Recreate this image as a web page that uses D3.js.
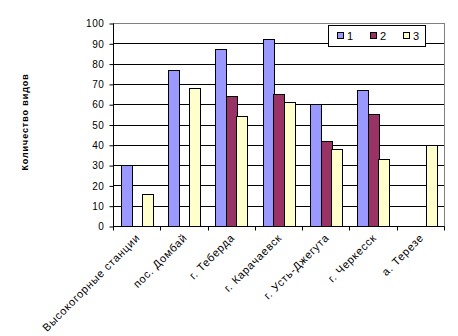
<!DOCTYPE html>
<html>
<head>
<meta charset="utf-8">
<script src="https://cdn.jsdelivr.net/npm/d3@7"></script>
<style>
  html, body { margin: 0; padding: 0; background: #fff; }
  svg { display: block; font-family: Arial, "Liberation Sans", sans-serif; }
</style>
</head>
<body>
<svg id="chart" width="458" height="336"></svg>
<script>
const categories = ["Высокогорные станции", "пос. Домбай", "г. Теберда", "г. Карачаевск", "г. Усть-Джегута", "г. Черкесск", "а. Терезе"];
const seriesNames = ["1", "2", "3"];
const series1 = [30, 77, 87, 92, 60, 67, 0];
const series2 = [0, 0, 64, 65, 42, 55, 0];
const series3 = [16, 68, 54, 61, 38, 33, 40];
const yTicks = [0, 10, 20, 30, 40, 50, 60, 70, 80, 90, 100];
const colors = ["#9999FF", "#993366", "#FFFFCC"];
const yTitle = "Количество видов";

const seriesData = [series1, series2, series3];
const svg = d3.select("#chart");
const pL = 113, pR = 444, pT = 23, pB = 226;

const x = d3.scaleBand().domain(categories).range([pL, pR]).paddingInner(0).paddingOuter(0);
const bw = x.bandwidth() / 4.5;
const xs = d3.scaleBand().domain(seriesNames).range([bw * 0.75, bw * 0.75 + 3 * bw]);
const y = d3.scaleLinear().domain([0, 100]).range([pB, pT]);

// plot area border (gray)
svg.append("rect").attr("x", pL + 0.5).attr("y", pT + 0.5).attr("width", pR - pL).attr("height", pB - pT)
  .attr("fill", "#fff").attr("stroke", "#808080").attr("stroke-width", 1);

// gridlines
svg.append("g").selectAll("line").data(yTicks.filter(d => d > 0 && d < 100)).join("line")
  .attr("x1", pL).attr("x2", pR).attr("y1", d => Math.round(y(d)) + 0.5).attr("y2", d => Math.round(y(d)) + 0.5)
  .attr("stroke", "#000").attr("stroke-width", 1);

// bars
const groups = svg.append("g").selectAll("g").data(seriesData).join("g")
  .attr("fill", (d, i) => colors[i]);
groups.each(function(vals, si) {
  d3.select(this).selectAll("rect").data(vals.map((v, ci) => ({v, c: categories[ci]})).filter(d => d.v > 0)).join("rect")
    .attr("x", d => Math.round(x(d.c) + xs(seriesNames[si])) + 0.5)
    .attr("width", Math.round(bw))
    .attr("y", d => Math.round(y(d.v)) + 0.5)
    .attr("height", d => Math.round(y(0)) - Math.round(y(d.v)))
    .attr("stroke", "#000").attr("stroke-width", 1);
});

// y axis
const yAxis = d3.axisLeft(y).tickValues(yTicks).tickSize(4).tickPadding(5).tickFormat(d3.format("d"));
const gy = svg.append("g").attr("transform", `translate(${pL + 0.5},0.5)`).call(yAxis);
gy.select(".domain").attr("d", `M0,${pT}V${pB}`).attr("stroke", "#000");
gy.selectAll(".tick line").attr("stroke", "#000");
gy.selectAll(".tick text").attr("font-size", "10px").attr("fill", "#000").style("letter-spacing", "0.6px")
  .attr("font-family", "Arial, 'Liberation Sans', sans-serif");

// x axis
const xAxis = d3.axisBottom(x).tickSize(0).tickFormat(d => d);
const gx = svg.append("g").attr("transform", `translate(0,${pB + 0.5})`).call(xAxis);
gx.select(".domain").attr("d", `M${pL},0H${pR + 0.5}`).attr("stroke", "#000");
gx.selectAll(".tick line").remove();
// category boundary ticks
gx.append("g").selectAll("line").data(d3.range(categories.length + 1)).join("line")
  .attr("x1", i => Math.round(pL + i * x.step()) + 0.5).attr("x2", i => Math.round(pL + i * x.step()) + 0.5)
  .attr("y1", 0).attr("y2", 4).attr("stroke", "#000");
gx.selectAll(".tick text")
  .attr("font-size", "11px").attr("fill", "#000").style("letter-spacing", "0.7px")
  .attr("font-family", "Arial, 'Liberation Sans', sans-serif")
  .attr("text-anchor", "end")
  .attr("dy", null).attr("y", 0)
  .attr("transform", "translate(4,12) rotate(-45)");

// y title
svg.append("text").attr("transform", "translate(28,122) rotate(-90)")
  .attr("text-anchor", "middle").attr("font-size", "9px").attr("font-weight", "bold")
  .style("letter-spacing", "0.9px").text(yTitle);

// legend
const lg = svg.append("g");
lg.append("rect").attr("x", 328.5).attr("y", 25.5).attr("width", 97).attr("height", 21)
  .attr("fill", "#fff").attr("stroke", "#000");
const lx = [337, 370, 403];
seriesNames.forEach((n, i) => {
  lg.append("rect").attr("x", lx[i] + 0.5).attr("y", 32.5).attr("width", 6).attr("height", 6)
    .attr("fill", colors[i]).attr("stroke", "#000");
  lg.append("text").attr("x", lx[i] + 10).attr("y", 40).attr("font-size", "11px").attr("fill", "#000").text(n);
});
</script>
</body>
</html>
